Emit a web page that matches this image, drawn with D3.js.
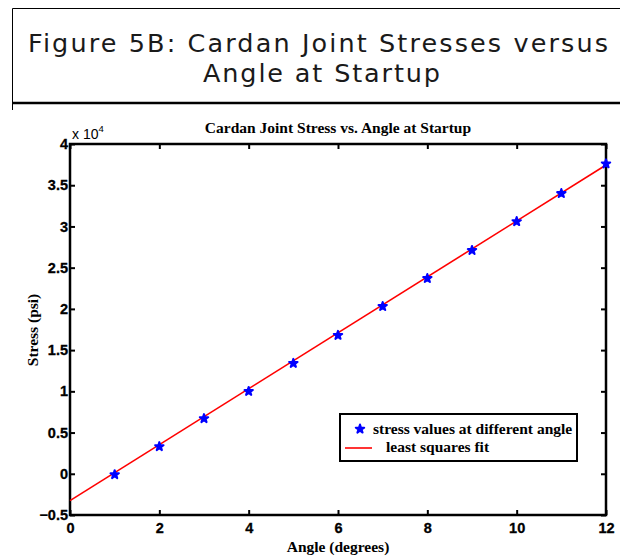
<!DOCTYPE html>
<html>
<head>
<meta charset="utf-8">
<script src="https://cdn.jsdelivr.net/npm/d3@7"></script>
<style>
  body { margin: 0; background: #fff; }
  svg { display: block; }
</style>
</head>
<body>
<div id="content"></div>
<script>
// chart values
let angles = [1, 2, 3, 4, 5, 6, 7, 8, 9, 10, 11, 12];
let stress = [-100, 3300, 6700, 10000, 13400, 16800, 20300, 23700, 27100, 30600, 34000, 37600];
let fitAngles = [0, 12];
let fitStress = [-3250, 37450];
let xTicks = [0, 2, 4, 6, 8, 10, 12];
let yTicks = [-5000, 0, 5000, 10000, 15000, 20000, 25000, 30000, 35000, 40000];
let legendLabels = ["stress values at different angle", "least squares fit"];

let width = 620;
let height = 560;
let svg = d3.select("#content").append("svg")
            .attr("width", width)
            .attr("height", height);

// header box
svg.append("path")
   .attr("d", "M620,8.5 H12.5 V110")
   .style("fill", "none").style("stroke", "#000").style("stroke-width", 1);
svg.append("line")
   .attr("x1", 12).attr("x2", 620).attr("y1", 103).attr("y2", 103)
   .style("stroke", "#000").style("stroke-width", 2.5);

let headFont = "'DejaVu Sans', 'Open Sans', sans-serif";
svg.append("text")
   .attr("x", 28).attr("y", 52)
   .attr("textLength", 580).attr("lengthAdjust", "spacing")
   .style("font-family", headFont).style("font-size", "25.5px").style("fill", "#1a1a1a")
   .text("Figure 5B: Cardan Joint Stresses versus");
svg.append("text")
   .attr("x", 203).attr("y", 82)
   .attr("textLength", 237).attr("lengthAdjust", "spacing")
   .style("font-family", headFont).style("font-size", "25.5px").style("fill", "#1a1a1a")
   .text("Angle at Startup");

// plot area
let pLeft = 70, pRight = 606, pTop = 144, pBottom = 515;
let x = d3.scaleLinear().domain([0, 12]).range([pLeft, pRight]);
let y = d3.scaleLinear().domain([-5000, 40000]).range([pBottom, pTop]);

let g = svg.append("g");
let tickFont = "Arial, 'Liberation Sans', sans-serif";
let serif = "'Times New Roman', 'Liberation Serif', serif";

g.append("rect")
 .attr("x", pLeft).attr("y", pTop).attr("width", pRight - pLeft).attr("height", pBottom - pTop)
 .style("fill", "none").style("stroke", "#000").style("stroke-width", 2.5);

let tickLen = 5;
let xAxisB = d3.axisBottom(x).tickValues(xTicks).tickSize(-tickLen).tickPadding(8)
               .tickFormat(d3.format("d"));
let xAxisT = d3.axisTop(x).tickValues(xTicks).tickSize(-tickLen).tickFormat("");
let yAxisL = d3.axisLeft(y).tickValues(yTicks).tickSize(-tickLen).tickPadding(2)
               .tickFormat(d => d3.format("")(d / 10000));
let yAxisR = d3.axisRight(y).tickValues(yTicks).tickSize(-tickLen).tickFormat("");

function styleAxis(sel) {
  sel.select(".domain").remove();
  sel.selectAll(".tick line").style("stroke", "#000").style("stroke-width", 2);
  sel.selectAll(".tick text")
     .style("font-family", tickFont).style("font-weight", "bold")
     .style("font-size", "14.5px").style("fill", "#000")
     .style("stroke", "#000").style("stroke-width", 0.3);
}
g.append("g").attr("transform", `translate(0,${pBottom})`).call(xAxisB).call(styleAxis);
g.append("g").attr("transform", `translate(0,${pTop})`).call(xAxisT).call(styleAxis);
g.append("g").attr("transform", `translate(${pLeft},0)`).call(yAxisL).call(styleAxis);
g.append("g").attr("transform", `translate(${pRight},0)`).call(yAxisR).call(styleAxis);

// exponent label
let expo = g.append("text").attr("x", 72).attr("y", 139)
  .style("font-family", tickFont).style("font-size", "14px").style("fill", "#000");
expo.append("tspan").text("x 10");
expo.append("tspan").attr("dy", -7).style("font-size", "9.5px").text("4");

// fit line
let line = d3.line().x(d => x(d[0])).y(d => y(d[1]));
g.append("path")
 .datum(d3.zip(fitAngles, fitStress))
 .attr("d", line)
 .style("fill", "none").style("stroke", "#ff0000").style("stroke-width", 1.6);

// data points
let star = d3.symbol().type(d3.symbolStar).size(22);
g.selectAll(".pt").data(d3.zip(angles, stress)).enter().append("path")
 .attr("class", "pt")
 .attr("transform", d => `translate(${x(d[0])},${y(d[1])})`)
 .attr("d", star)
 .style("fill", "#0000ff").style("stroke", "#0000ff").style("stroke-width", 2)
 .style("stroke-linejoin", "round");

// titles
svg.append("text").attr("x", 338).attr("y", 133).attr("text-anchor", "middle")
   .style("font-family", serif).style("font-weight", "bold").style("font-size", "15.5px")
   .text("Cardan Joint Stress vs. Angle at Startup");
svg.append("text").attr("x", 338).attr("y", 552).attr("text-anchor", "middle")
   .style("font-family", serif).style("font-weight", "bold").style("font-size", "15.5px")
   .text("Angle (degrees)");
svg.append("text").attr("transform", "translate(38,330) rotate(-90)").attr("text-anchor", "middle")
   .style("font-family", serif).style("font-weight", "bold").style("font-size", "15.5px")
   .text("Stress (psi)");

// legend
let lg = svg.append("g");
lg.append("rect").attr("x", 340).attr("y", 414).attr("width", 237).attr("height", 47)
  .style("fill", "#fff").style("stroke", "#000").style("stroke-width", 2);
lg.append("path").attr("transform", "translate(360,429)").attr("d", star)
  .style("fill", "#0000ff").style("stroke", "#0000ff").style("stroke-width", 2)
  .style("stroke-linejoin", "round");
lg.append("line").attr("x1", 345).attr("x2", 372).attr("y1", 448).attr("y2", 448)
  .style("stroke", "#ff0000").style("stroke-width", 1.6);
lg.selectAll(".lt").data(legendLabels).enter().append("text")
  .attr("class", "lt")
  .attr("x", (d, i) => i == 0 ? 373 : 386)
  .attr("y", (d, i) => 434 + i * 18)
  .style("font-family", serif).style("font-weight", "bold").style("font-size", "15.5px")
  .text(d => d);
</script>
</body>
</html>
